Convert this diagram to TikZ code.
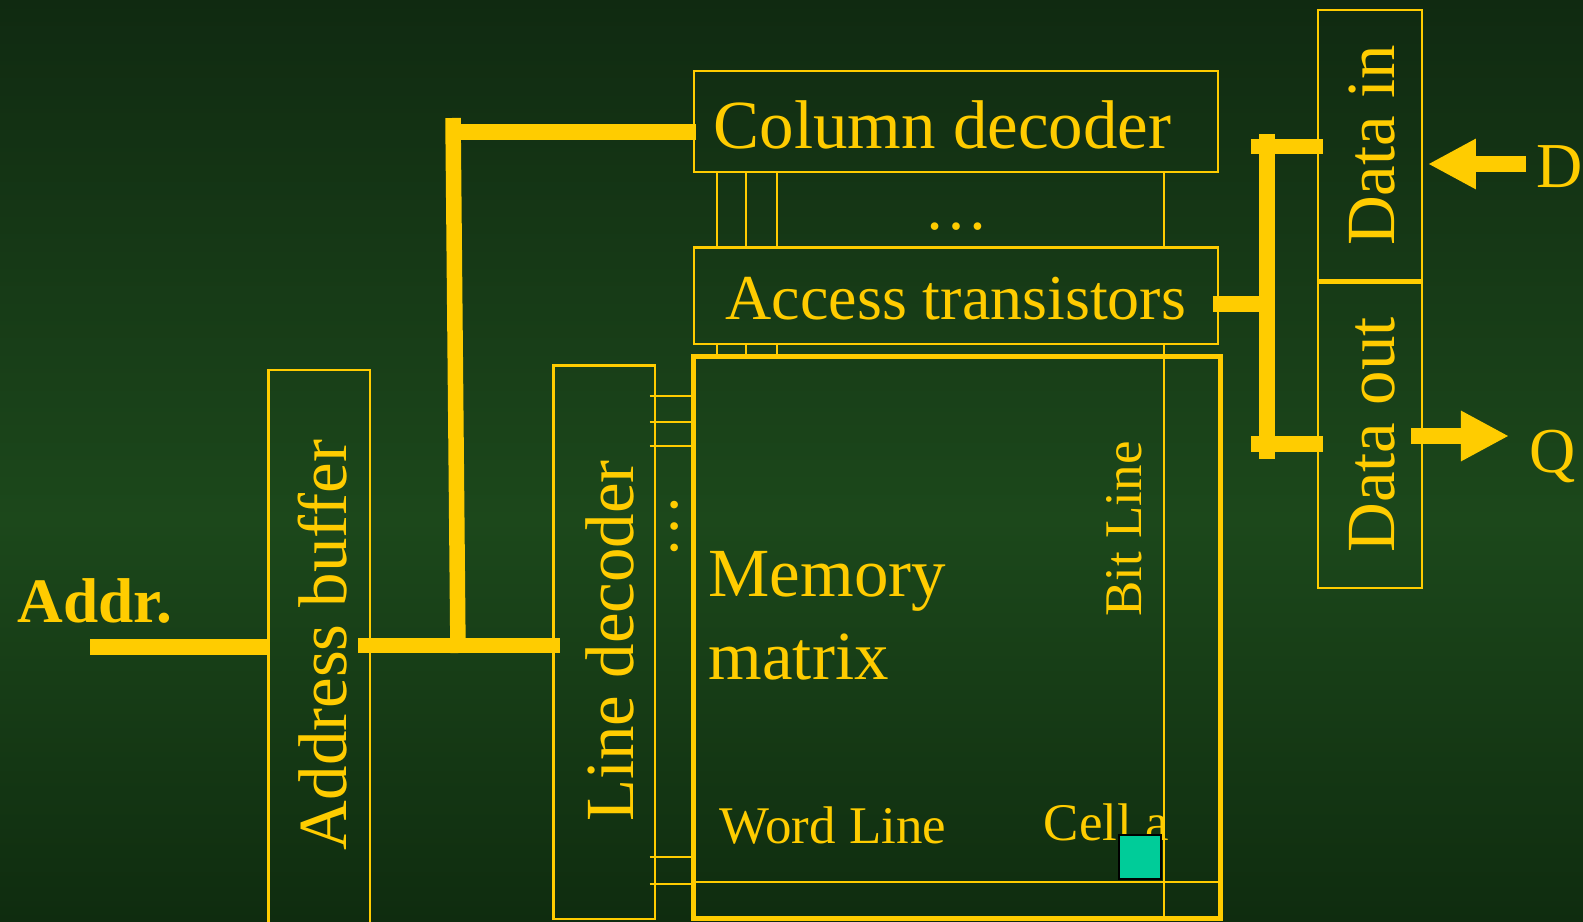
\documentclass[tikz,border=0pt]{standalone}
\usepackage{fontspec}
\setmainfont{Liberation Serif}
\usetikzlibrary{arrows.meta}
\definecolor{chipgold}{RGB}{255,204,0}
\definecolor{celltone}{RGB}{0,204,153}
\definecolor{boardtop}{RGB}{16,42,17}
\definecolor{boardmid}{RGB}{28,72,27}
\definecolor{boardlow}{RGB}{15,44,15}
\newcommand{\blockfont}{\fontsize{19.6}{23.6}\selectfont}
\newcommand{\accfont}{\fontsize{18.2}{22}\selectfont}
\newcommand{\notefont}{\fontsize{15.05}{18}\selectfont}
\newcommand{\addrfont}{\fontsize{18}{21}\selectfont\bfseries}
\tikzset{
  blk/.style={draw=chipgold, line width=0.022cm, inner sep=0pt},
  wire/.style={draw=chipgold, line width=0.155cm},
  fine/.style={draw=chipgold, line width=0.022cm},
  lbl/.style={text=chipgold, inner sep=0pt},
  bigarrow/.style={wire, fill=chipgold, -{Triangle[length=0.48cm,width=0.47cm]}},
}

\begin{document}
\begin{tikzpicture}[x=0.01cm,y=-0.01cm]
% Background
\useasboundingbox (0,0) rectangle (1583,922);
\shade[top color=boardtop, bottom color=boardmid] (0,0) rectangle (1583,520);
\shade[top color=boardmid, bottom color=boardlow] (0,519) rectangle (1583,922);
% Blocks
\node[blk, minimum width=5.24cm, minimum height=1.01cm] (coldec) at (956,121.5) {};
\node[blk, minimum width=5.24cm, minimum height=0.965cm] (acc) at (956,295.75) {};
\node[blk, line width=0.05cm, minimum width=5.26cm, minimum height=5.61cm] (matrix) at (957,637.5) {};
\node[blk, minimum width=1.015cm, minimum height=5.533cm] (ldec) at (604.25,642.35) {};
\node[blk, minimum width=1.015cm, minimum height=5.7cm] (abuf) at (319.25,655) {};
\node[blk, minimum width=1.035cm, minimum height=2.705cm] (din) at (1370,145.25) {};
\node[blk, minimum width=1.035cm, minimum height=3.05cm] (dout) at (1370,435.5) {};
% Block labels
\node[lbl, font=\blockfont, anchor=base west] (coldect) at (713,148.5) {Column decoder};
\node[lbl, font=\accfont, anchor=base west] (acct) at (725,319.3) {Access transistors};
\node[lbl, font=\blockfont, align=left, anchor=west] (matt) at (708,616) {Memory\\matrix};
\node[lbl, font=\blockfont, rotate=90, anchor=base] (ldect) at (633,641) {Line decoder};
\node[lbl, font=\blockfont, rotate=90, anchor=base] (abuft) at (346,645) {Address buffer};
\node[lbl, font=\blockfont, rotate=90, anchor=base] (dint) at (1394,145.5) {Data in};
\node[lbl, font=\blockfont, rotate=90, anchor=base] (doutt) at (1394,435) {Data out};
\node[lbl, font=\notefont, anchor=base west] (wordt) at (719,843) {Word Line};
\node[lbl, font=\notefont, anchor=base west] (cellt) at (1043,840) {Cell a};
\node[lbl, font=\notefont, rotate=90, anchor=base] (bitt) at (1141,529) {Bit Line};
\node[lbl, font=\addrfont, anchor=base west] (addr) at (17,622.3) {Addr.};
\node[lbl, font=\accfont, anchor=base west] (dlbl) at (1536,187.5) {D};
\node[lbl, font=\accfont, anchor=base west] (qlbl) at (1529,472.6) {Q};
\node[lbl, font=\accfont, anchor=base] (coldots) at (956,230) {…};
\node[lbl, font=\accfont, rotate=90, anchor=base] (rowdots) at (677,526.7) {…};
% Column and bit lines
\foreach \xb in {717,746,777,1164} {
  \draw[fine] (\xb,0 |- coldec.south) -- (\xb,0 |- acc.north);
}
\foreach \xb in {717,746,777} {
  \draw[fine] (\xb,0 |- acc.south) -- (\xb,0 |- matrix.north);
}
\draw[fine] (1164,0 |- acc.south) -- (1164,0 |- matrix.south);
% Word line and row outputs
\draw[fine] (matrix.west |- 0,881.7) -- (matrix.east |- 0,881.7);
\foreach \yw in {396,422,446,857,884} {
  \draw[fine] ([xshift=-0.065cm]ldec.east |- 0,\yw) -- (matrix.west |- 0,\yw);
}
% Address path
\coordinate (addrin) at (90,647);
\draw[wire] (addrin) -- (addrin -| abuf.west);
\draw[wire] ([xshift=-0.13cm]abuf.east |- 0,645.5) -- ([xshift=0.08cm]ldec.west |- 0,645.5);
\coordinate (bustop) at (453,118);
\coordinate (busbot) at (458,653);
\draw[wire] (bustop) -- (busbot);
\draw[wire] (446,132) -- ([xshift=0.03cm]coldec.west |- 0,132);
% Data bus
\draw[wire] ([xshift=-0.063cm]acc.east |- 0,304) -- (1268,304);
\draw[wire] (1267,134) -- (1267,459);
\draw[wire] (1251,146.5) -- ([xshift=0.06cm]din.west |- 0,146.5);
\draw[wire] (1251,444) -- ([xshift=0.06cm]dout.west |- 0,444);
% In and out
\draw[bigarrow] ([xshift=-0.1cm]dlbl.west |- 0,164) -- ([xshift=0.05cm]din.east |- 0,164);
\draw[bigarrow] ([xshift=-0.117cm]dout.east |- 0,436) -- ([xshift=-0.2cm]qlbl.west |- 0,436);
% Cell a
\node[draw=black, fill=celltone, line width=0.02cm, inner sep=0pt, minimum width=0.415cm, minimum height=0.44cm] (cell) at (1139.75,857) {};
\end{tikzpicture}
\end{document}
